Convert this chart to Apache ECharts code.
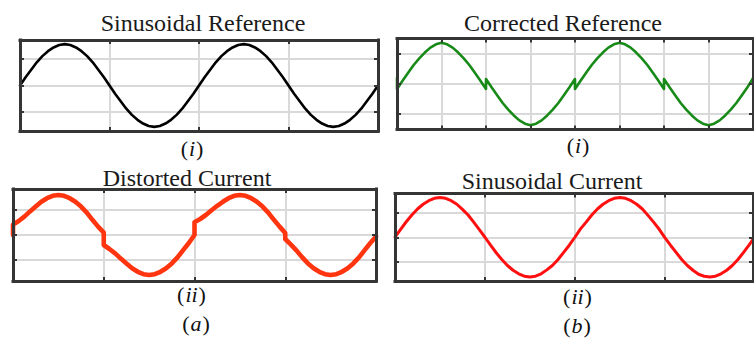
<!DOCTYPE html>
<html>
<head>
<meta charset="utf-8">
<script src="https://cdn.jsdelivr.net/npm/echarts@6/dist/echarts.min.js"></script>
<style>
  html, body { margin: 0; padding: 0; background: #ffffff; }
  #chart { width: 754px; height: 347px; }
</style>
</head>
<body>
<div id="chart"></div>
<script>
// ---- waveform samples (time measured in grid divisions) ----
// A sample written as [before, after] marks a jump at that instant.

const refStep = 1 / 16;
const refValues = [
  0, 0.20, 0.38, 0.56, 0.71, 0.83, 0.92, 0.98, 1.00, 0.98, 0.92, 0.83, 0.71, 0.56, 0.38, 0.20,
  0, -0.20, -0.38, -0.56, -0.71, -0.83, -0.92, -0.98, -1.00, -0.98, -0.92, -0.83, -0.71, -0.56, -0.38, -0.20,
  0, 0.20, 0.38, 0.56, 0.71, 0.83, 0.92, 0.98, 1.00, 0.98, 0.92, 0.83, 0.71, 0.56, 0.38, 0.20,
  0, -0.20, -0.38, -0.56, -0.71, -0.83, -0.92, -0.98, -1.00, -0.98, -0.92, -0.83, -0.71, -0.56, -0.38, -0.20,
  0
];

const corrStep = 1 / 8;
const corrValues = [
  [0.15, -0.12], 0.08, 0.27, 0.46, 0.62, 0.76, 0.88, 0.96, 1.00, 0.96, 0.88, 0.76, 0.62, 0.46, 0.27, 0.08,
  [-0.12, 0.12], -0.08, -0.27, -0.46, -0.62, -0.76, -0.88, -0.96, -1.00, -0.96, -0.88, -0.76, -0.62, -0.46, -0.27, -0.08,
  [0.12, -0.12], 0.08, 0.27, 0.46, 0.62, 0.76, 0.88, 0.96, 1.00, 0.96, 0.88, 0.76, 0.62, 0.46, 0.27, 0.08,
  [-0.12, 0.12], -0.08, -0.27, -0.46, -0.62, -0.76, -0.88, -0.96, -1.00, -0.96, -0.88, -0.76, -0.62, -0.46, -0.27, -0.08,
  0.14
];

const distStep = 1 / 16;
const distValues = [
  [0.00, 0.26], 0.35, 0.46, 0.59, 0.71, 0.83, 0.92, 0.98, 1.00, 0.98, 0.92, 0.83, 0.71, 0.56, 0.38, 0.21,
  [0.06, -0.25], -0.35, -0.46, -0.59, -0.71, -0.83, -0.92, -0.98, -1.00, -0.98, -0.92, -0.83, -0.71, -0.56, -0.38, -0.20,
  [0.00, 0.32], 0.40, 0.50, 0.62, 0.73, 0.83, 0.92, 0.98, 1.00, 0.98, 0.92, 0.83, 0.71, 0.56, 0.38, 0.21,
  [0.05, -0.10], -0.24, -0.39, -0.56, -0.71, -0.83, -0.92, -0.98, -1.00, -0.98, -0.92, -0.83, -0.71, -0.56, -0.38, -0.20,
  -0.04
];

const sinCurStep = 1 / 16;
const sinCurValues = [
  0, 0.20, 0.39, 0.56, 0.71, 0.83, 0.92, 0.98, 1.00, 0.98, 0.92, 0.83, 0.70, 0.56, 0.38, 0.19,
  0, -0.20, -0.39, -0.56, -0.71, -0.83, -0.92, -0.98, -1.00, -0.98, -0.92, -0.82, -0.71, -0.56, -0.38, -0.20,
  0, 0.21, 0.38, 0.56, 0.71, 0.83, 0.92, 0.98, 1.00, 0.98, 0.92, 0.83, 0.71, 0.55, 0.38, 0.20,
  -0.01, -0.20, -0.38, -0.56, -0.71, -0.83, -0.93, -0.98, -1.00, -0.98, -0.92, -0.83, -0.71, -0.56, -0.38, -0.19,
  0.01
];

// ---- tick positions ----
const xTicks4 = [1, 2, 3];
const xTicks8 = [1, 2, 3, 4, 5, 6, 7];
const yTicksRef = [-0.64, 0, 0.64];
const yTicksCorr = [-0.725, 0, 0.725];
const yTicksDist = [-0.625, 0, 0.625];
const yTicksSin = [-0.616, 0, 0.616];

// ---- texts ----
const panelTitles = ['Sinusoidal Reference', 'Corrected Reference', 'Distorted Current', 'Sinusoidal Current'];
const panelTags = ['i', 'i', 'ii', 'ii'];
const groupTags = ['a', 'b'];

function toPairs(step, values) {
  const out = [];
  values.forEach(function (v, i) {
    const t = i * step;
    if (Array.isArray(v)) { v.forEach(function (u) { out.push([t, u]); }); }
    else { out.push([t, v]); }
  });
  return out;
}

const FRAME = '#353535';
const GRIDLINE = '#d9d9d9';

const panels = [
  { box: { left: 20, top: 40, width: 358, height: 91 }, xMax: 4, xTicks: xTicks4, yMax: 1.1, yTicks: yTicksRef,
    data: toPairs(refStep, refValues), color: '#000000', lw: 2.6 },
  { box: { left: 397, top: 38.5, width: 356, height: 91 }, xMax: 8, xTicks: xTicks8, yMax: 1.1, yTicks: yTicksCorr,
    data: toPairs(corrStep, corrValues), color: '#178a17', lw: 2.6 },
  { box: { left: 13, top: 189, width: 363, height: 92 }, xMax: 4, xTicks: xTicks4, yMax: 1.15, yTicks: yTicksDist,
    data: toPairs(distStep, distValues), color: '#ff3510', lw: 4.6 },
  { box: { left: 395, top: 193.5, width: 358, height: 87.5 }, xMax: 3.98, xTicks: xTicks4, yMax: 1.1, yTicks: yTicksSin,
    data: toPairs(sinCurStep, sinCurValues), color: '#ff1010', lw: 3 }
];

const grids = [], xAxes = [], yAxes = [], series = [];

panels.forEach(function (p, g) {
  grids.push(Object.assign({ show: false }, p.box));

  // gridlines (below the curve)
  xAxes.push({
    gridIndex: g, type: 'value', min: 0, max: p.xMax, position: 'bottom', z: 0,
    axisLine: { show: false }, axisLabel: { show: false },
    axisTick: { show: false, customValues: p.xTicks },
    splitLine: { show: true, lineStyle: { color: GRIDLINE, width: 2 } }
  });
  yAxes.push({
    gridIndex: g, type: 'value', min: -p.yMax, max: p.yMax, position: 'left', z: 0,
    axisLine: { show: false }, axisLabel: { show: false },
    axisTick: { show: false, customValues: p.yTicks },
    splitLine: { show: true, lineStyle: { color: GRIDLINE, width: 2 } }
  });

  // frame and inward ticks (above the curve)
  ['bottom', 'top'].forEach(function (pos) {
    xAxes.push({
      gridIndex: g, type: 'value', min: 0, max: p.xMax, position: pos, z: 5,
      axisLine: { show: true, onZero: false, lineStyle: { color: FRAME, width: 3, cap: 'square' } },
      axisTick: { show: true, inside: true, length: 4, customValues: p.xTicks, lineStyle: { color: FRAME, width: 2 } },
      axisLabel: { show: false }, splitLine: { show: false }
    });
  });
  ['left', 'right'].forEach(function (pos) {
    yAxes.push({
      gridIndex: g, type: 'value', min: -p.yMax, max: p.yMax, position: pos, z: 5,
      axisLine: { show: true, onZero: false, lineStyle: { color: FRAME, width: 3, cap: 'square' } },
      axisTick: { show: true, inside: true, length: 4, customValues: p.yTicks, lineStyle: { color: FRAME, width: 2 } },
      axisLabel: { show: false }, splitLine: { show: false }
    });
  });

  series.push({
    type: 'line', xAxisIndex: g * 3, yAxisIndex: g * 3, data: p.data,
    showSymbol: false, symbol: 'none', smooth: false, z: 2, animation: false,
    lineStyle: { color: p.color, width: p.lw, join: 'round', cap: 'round' }
  });
});

// ---- titles and sub-labels ----
const TITLE_FONT = '"Liberation Serif", "Times New Roman", serif';
const titlePos = [[203, 23.3], [563, 22.8], [187, 178], [552, 181]];
const tagPos = [[192, 148.5], [578, 145], [191.5, 294.5], [577.5, 296.5]];
const groupPos = [[196, 323.5], [577, 325]];

const graphics = [];
panelTitles.forEach(function (t, i) {
  graphics.push({
    type: 'text', x: titlePos[i][0], y: titlePos[i][1], z: 10,
    style: { text: t, font: '24px ' + TITLE_FONT, fill: '#1a1a1a', align: 'center', verticalAlign: 'middle' }
  });
});

function mathTag(body, pos) {
  return {
    type: 'text', x: pos[0], y: pos[1], z: 10,
    style: {
      text: '{p|(}{m|' + body + '}{p|)}', align: 'center', verticalAlign: 'middle', fill: '#111111',
      rich: {
        p: { fontFamily: TITLE_FONT, fontSize: 22, fill: '#111111' },
        m: { fontFamily: TITLE_FONT, fontSize: 22, fontStyle: 'italic', fill: '#111111', padding: [0, 1, 0, 1] }
      }
    }
  };
}
panelTags.forEach(function (t, i) { graphics.push(mathTag(t, tagPos[i])); });
groupTags.forEach(function (t, i) { graphics.push(mathTag(t, groupPos[i])); });

const chart = echarts.init(document.getElementById('chart'), null, { renderer: 'svg' });
chart.setOption({
  backgroundColor: '#ffffff',
  animation: false,
  grid: grids,
  xAxis: xAxes,
  yAxis: yAxes,
  series: series,
  graphic: graphics
});
</script>
</body>
</html>
